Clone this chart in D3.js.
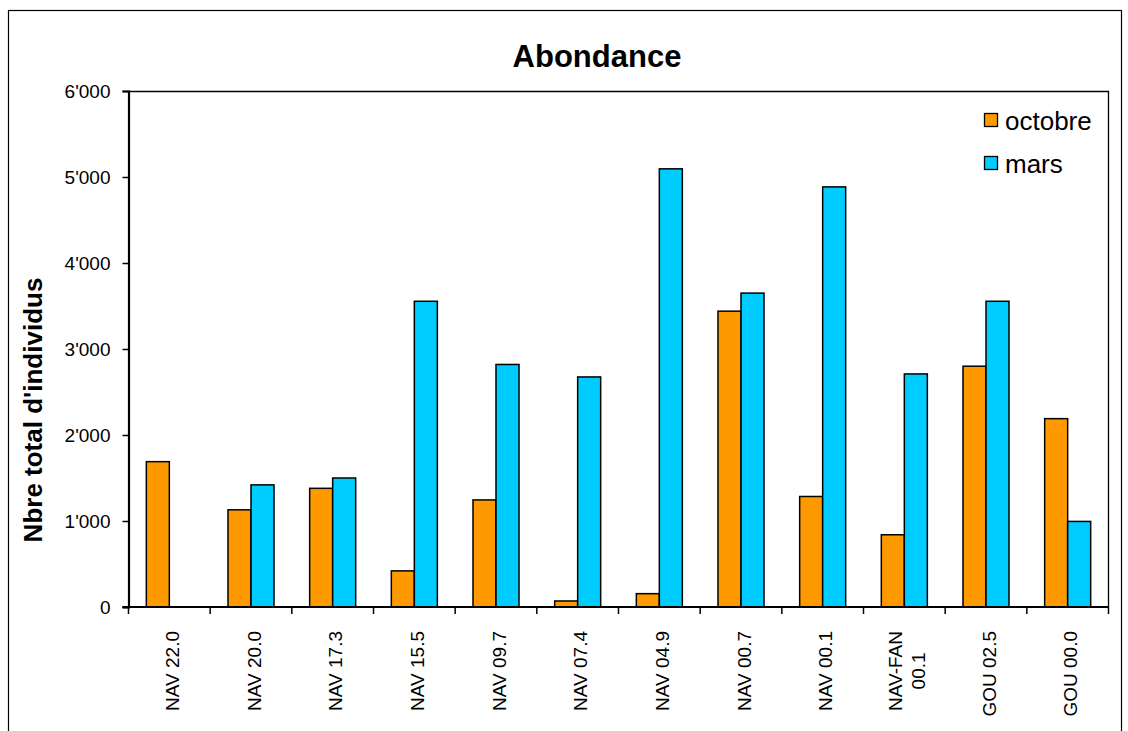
<!DOCTYPE html>
<html>
<head>
<meta charset="utf-8">
<script src="https://cdn.jsdelivr.net/npm/d3@7"></script>
<style>
  html, body { margin: 0; padding: 0; background: #fff; }
  svg { display: block; }
  text { font-family: "Liberation Sans", Arial, sans-serif; fill: #000; }
</style>
</head>
<body>
<svg id="chart" width="1128" height="731"></svg>
<script>
// Stations along the river (sampling sites)
const categories = ["NAV 22.0", "NAV 20.0", "NAV 17.3", "NAV 15.5", "NAV 09.7", "NAV 07.4",
                    "NAV 04.9", "NAV 00.7", "NAV 00.1", "NAV-FAN\n00.1", "GOU 02.5", "GOU 00.0"];
const seriesNames = ["octobre", "mars"];
// Total number of individuals per station and campaign
const octobre = [1690, 1130, 1380, 420, 1245, 70, 155, 3440, 1285, 840, 2800, 2190];
const mars    = [null, 1420, 1500, 3555, 2820, 2675, 5095, 3650, 4885, 2710, 3555, 995];
const yTicks  = [0, 1000, 2000, 3000, 4000, 5000, 6000];
const seriesColors = ["#FF9900", "#00CCFF"];

const svg = d3.select("#chart");

// Outer chart frame
svg.append("rect")
  .attr("x", 8.5).attr("y", 10.5)
  .attr("width", 1113).attr("height", 740)
  .attr("fill", "none").attr("stroke", "#000").attr("stroke-width", 1.2);

const plot = { left: 128.5, right: 1108.5, top: 91, bottom: 607 };

const x = d3.scaleBand().domain(categories).range([plot.left, plot.right]).paddingInner(0).paddingOuter(0);
const xs = d3.scaleBand().domain(seriesNames).range([0, x.bandwidth()]).paddingInner(0).paddingOuter(0.775);
const y = d3.scaleLinear().domain([0, 6000]).range([plot.bottom, plot.top]);

const fmt = d3.formatLocale({ decimal: ".", thousands: "'", grouping: [3], currency: ["", ""] }).format(",");

// Plot area frame (top and right)
svg.append("path")
  .attr("d", `M${plot.left},${plot.top + 0.5}H${plot.right}V${plot.bottom}`)
  .attr("fill", "none").attr("stroke", "#000").attr("stroke-width", 1.3);

// Bars
const rows = categories.map((c, i) => ({ cat: c, values: [octobre[i], mars[i]] }));
const groups = svg.append("g").selectAll("g").data(rows).join("g")
  .attr("transform", d => `translate(${x(d.cat)},0)`);
groups.selectAll("rect")
  .data(d => d.values.map((v, k) => ({ key: seriesNames[k], value: v, color: seriesColors[k] }))
                    .filter(e => e.value != null))
  .join("rect")
  .attr("x", d => xs(d.key))
  .attr("width", xs.bandwidth())
  .attr("y", d => y(d.value))
  .attr("height", d => y(0) - y(d.value))
  .attr("fill", d => d.color)
  .attr("stroke", "#000").attr("stroke-width", 1.5);

// Y axis
const yAxis = svg.append("g")
  .attr("transform", `translate(${plot.left},0)`)
  .call(d3.axisLeft(y).tickValues(yTicks).tickFormat(fmt).tickSize(6).tickPadding(12));
yAxis.select(".domain").attr("stroke", "#000").attr("stroke-width", 2.2);
yAxis.selectAll(".tick line").attr("stroke", "#000").attr("stroke-width", 1.5);
yAxis.selectAll(".tick text").attr("font-size", 19).attr("fill", "#000")
  .style("font-family", "'Liberation Sans', Arial, sans-serif");

// X axis baseline with ticks at category boundaries
const xAxisG = svg.append("g");
xAxisG.append("line")
  .attr("x1", plot.left - 6).attr("x2", plot.right)
  .attr("y1", plot.bottom).attr("y2", plot.bottom)
  .attr("stroke", "#000").attr("stroke-width", 2.2);
const boundaries = categories.map(c => x(c)).concat([x(categories[categories.length - 1]) + x.bandwidth()]);
xAxisG.selectAll("line.tk").data(boundaries).join("line")
  .attr("class", "tk")
  .attr("x1", d => d).attr("x2", d => d)
  .attr("y1", plot.bottom).attr("y2", plot.bottom + 7)
  .attr("stroke", "#000").attr("stroke-width", 1.5);

// Category labels, rotated
const labelTop = 631;
const labelSize = 19;
categories.forEach(c => {
  const cx = x(c) + x.bandwidth() / 2;
  const lines = c.split("\n");
  if (lines.length === 1) {
    svg.append("text")
      .attr("transform", `translate(${cx + 9.5},${labelTop}) rotate(-90)`)
      .attr("text-anchor", "end")
      .attr("font-size", labelSize)
      .text(c);
  } else {
    const lh = 23;
    const g = svg.append("g");
    const texts = lines.map(ln => g.append("text")
      .attr("font-size", labelSize).attr("text-anchor", "middle").text(ln));
    const maxW = d3.max(texts, t => t.node().getComputedTextLength());
    const midY = labelTop + maxW / 2;
    const x0 = cx + 9.5 - (lines.length - 1) * lh / 2;
    texts.forEach((t, k) => t.attr("transform", `translate(${x0 + k * lh},${midY}) rotate(-90)`));
  }
});

// Title
svg.append("text")
  .attr("x", 597).attr("y", 67)
  .attr("text-anchor", "middle")
  .attr("font-size", 31).attr("font-weight", "bold")
  .text("Abondance");

// Y axis title
svg.append("text")
  .attr("transform", `translate(42,410) rotate(-90)`)
  .attr("text-anchor", "middle")
  .attr("font-size", 26).attr("font-weight", "bold")
  .text("Nbre total d'individus");

// Legend
const legend = svg.append("g").attr("transform", "translate(984,113)");
seriesNames.forEach((name, k) => {
  const row = legend.append("g").attr("transform", `translate(0,${k * 43})`);
  row.append("rect").attr("x", 0.5).attr("y", 0.5).attr("width", 13).attr("height", 13)
    .attr("fill", seriesColors[k]).attr("stroke", "#000").attr("stroke-width", 1.3);
  row.append("text").attr("x", 21).attr("y", 17).attr("font-size", 26).text(name);
});
</script>
</body>
</html>
